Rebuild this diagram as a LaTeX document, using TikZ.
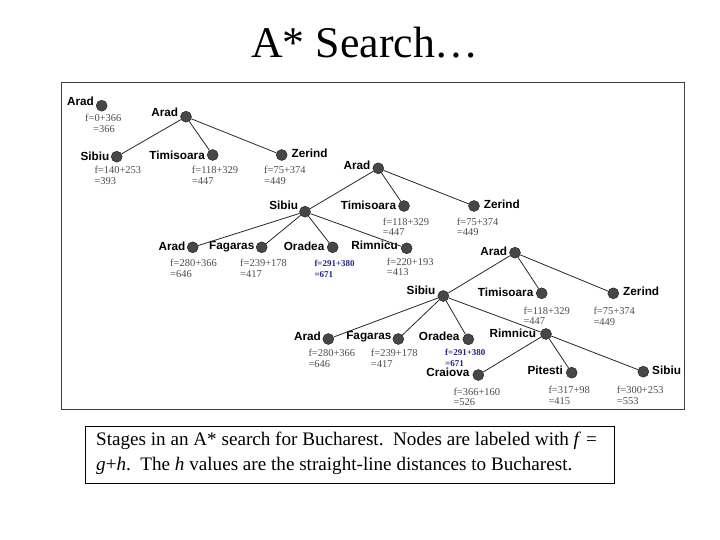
\documentclass[tikz,border=0pt]{standalone}
\usepackage{fontspec}
\setmainfont{Liberation Serif}
\setsansfont{Liberation Sans}
\usetikzlibrary{positioning}
\definecolor{fblue}{RGB}{35,35,135}

\begin{document}
\begin{tikzpicture}[x=1bp, y=-1bp,
    city/.style={circle, draw=black!90, fill=black!72, inner sep=0pt, minimum size=11bp},
    cname/.style={font=\fontsize{11.8}{13}\selectfont\sffamily\bfseries, inner sep=0pt},
    fval/.style={font=\fontsize{10.5}{10.5}\selectfont\rmfamily, text=black!70, align=left, anchor=north west, inner sep=0pt},
    fbest/.style={fval, font=\fontsize{9}{10.5}\selectfont\rmfamily\bfseries, text=fblue},
    edge/.style={draw=black!85, line width=0.8bp}]

\useasboundingbox (0,0) rectangle (720,540);

% Title
\node[font=\fontsize{44}{50}\selectfont\rmfamily] (title) at (365,43) {A* Search\ldots};

% Frame round the stages
\draw[black!75, line width=1bp] (61,83) rectangle (684,409);

% Stage 1
\node[city] (a1) at (101.7,105.7) {};
\node[cname, left=2bp of a1, yshift=4.7bp] (a1n) {Arad};
\node[fval] (a1f) at (85,114) {f=0+366\\\hspace{8bp}=366};

% Stage 2
\node[city] (a2) at (186,116.7) {};
\node[cname, left=2bp of a2, yshift=4.4bp] (a2n) {Arad};
\node[city] (s2) at (116.7,156.7) {};
\node[cname, left=1.5bp of s2] (s2n) {Sibiu};
\node[fval] (s2f) at (94.3,166) {f=140+253\\=393};
\node[city] (t2) at (212.7,155) {};
\node[cname, left=2bp of t2] (t2n) {Timisoara};
\node[fval] (t2f) at (191.7,166) {f=118+329\\=447};
\node[city] (z2) at (281.7,155) {};
\node[cname, right=4bp of z2, yshift=2bp] (z2n) {Zerind};
\node[fval] (z2f) at (264,166) {f=75+374\\=449};
\draw[edge] (a2) -- (s2);
\draw[edge] (a2) -- (t2);
\draw[edge] (a2) -- (z2);

% Stage 3
\node[city] (a3) at (378.3,168.3) {};
\node[cname, left=2bp of a3, yshift=2.6bp] (a3n) {Arad};
\node[city] (s3) at (305,211.7) {};
\node[cname, left=1bp of s3, yshift=6.7bp] (s3n) {Sibiu};
\node[city] (t3) at (404,206) {};
\node[cname, left=2bp of t3, yshift=1bp] (t3n) {Timisoara};
\node[fval] (t3f) at (382.7,217.7) {f=118+329\\=447};
\node[city] (z3) at (474,206) {};
\node[cname, right=4bp of z3, yshift=2bp] (z3n) {Zerind};
\node[fval] (z3f) at (456.7,217.7) {f=75+374\\=449};
\node[city] (aa3) at (192.7,247.3) {};
\node[cname, left=1.5bp of aa3, yshift=0.6bp] (aa3n) {Arad};
\node[fval] (aa3f) at (170,259.3) {f=280+366\\=646};
\node[city] (f3) at (261.7,247.3) {};
\node[cname, left=1.5bp of f3, yshift=0.6bp] (f3n) {Fagaras};
\node[fval] (f3f) at (240,259.3) {f=239+178\\=417};
\node[city] (o3) at (332.7,247.3) {};
\node[cname, left=2.5bp of o3, yshift=0.6bp] (o3n) {Oradea};
\node[fbest] (o3f) at (314.3,260.3) {f=291+380\\=671};
\node[city] (r3) at (406.7,248.3) {};
\node[cname, left=3bp of r3, yshift=3.3bp] (r3n) {Rimnicu};
\node[fval] (r3f) at (386.7,257.7) {f=220+193\\=413};
\draw[edge] (a3) -- (s3);
\draw[edge] (a3) -- (t3);
\draw[edge] (a3) -- (z3);
\draw[edge] (s3) -- (aa3);
\draw[edge] (s3) -- (f3);
\draw[edge] (s3) -- (o3);
\draw[edge] (s3) -- (r3);

% Stage 4
\node[city] (a4) at (515,252.7) {};
\node[cname, left=2bp of a4, yshift=1.7bp] (a4n) {Arad};
\node[city] (s4) at (443.3,296) {};
\node[cname, left=2bp of s4, yshift=6bp] (s4n) {Sibiu};
\node[city] (t4) at (541.7,293.3) {};
\node[cname, left=2.5bp of t4, yshift=0.6bp] (t4n) {Timisoara};
\node[fval] (t4f) at (523.3,306.5) {f=118+329\\=447};
\node[city] (z4) at (613.3,293.3) {};
\node[cname, right=4bp of z4, yshift=2.3bp] (z4n) {Zerind};
\node[fval] (z4f) at (593.3,307) {f=75+374\\=449};
\node[city] (aa4) at (328.3,339) {};
\node[cname, left=1.5bp of aa4, yshift=2.3bp] (aa4n) {Arad};
\node[fval] (aa4f) at (308.3,349.3) {f=280+366\\=646};
\node[city] (f4) at (398.3,339) {};
\node[cname, left=1bp of f4, yshift=2.3bp] (f4n) {Fagaras};
\node[fval] (f4f) at (370.7,349.3) {f=239+178\\=417};
\node[city] (o4) at (468.3,339.3) {};
\node[cname, left=3bp of o4, yshift=3.3bp] (o4n) {Oradea};
\node[fbest] (o4f) at (445,349.3) {f=291+380\\=671};
\node[city] (r4) at (546,334) {};
\node[cname, left=4bp of r4, yshift=1.2bp] (r4n) {Rimnicu};
\node[city] (c4) at (478.3,375) {};
\node[cname, left=3bp of c4, yshift=2.3bp] (c4n) {Craiova};
\node[fval] (c4f) at (453.3,387.7) {f=366+160\\=526};
\node[city] (p4) at (571.7,372.7) {};
\node[cname, left=3bp of p4, yshift=2bp] (p4n) {Pitesti};
\node[fval] (p4f) at (548.3,386) {f=317+98\\=415};
\node[city] (ss4) at (643.3,371.7) {};
\node[cname, right=3bp of ss4, yshift=1bp] (ss4n) {Sibiu};
\node[fval] (ss4f) at (616.7,386) {f=300+253\\=553};
\draw[edge] (a4) -- (s4);
\draw[edge] (a4) -- (t4);
\draw[edge] (a4) -- (z4);
\draw[edge] (s4) -- (aa4);
\draw[edge] (s4) -- (f4);
\draw[edge] (s4) -- (o4);
\draw[edge] (s4) -- (r4);
\draw[edge] (r4) -- (c4);
\draw[edge] (r4) -- (p4);
\draw[edge] (r4) -- (ss4);

% Caption
\node[draw=black, line width=1bp, minimum width=528bp, minimum height=57bp, inner sep=0pt] (capbox) at (350,454.5) {};
\node[font=\fontsize{19.2}{24.5}\selectfont\rmfamily, align=left, anchor=west, inner sep=0pt] (caption) at (96,453.5)
    {Stages in an A* search for Bucharest.\ \ Nodes are labeled with \textit{f} =\\
     \textit{g}+\textit{h}.\ \ The \textit{h} values are the straight-line distances to Bucharest.};
\end{tikzpicture}
\end{document}
